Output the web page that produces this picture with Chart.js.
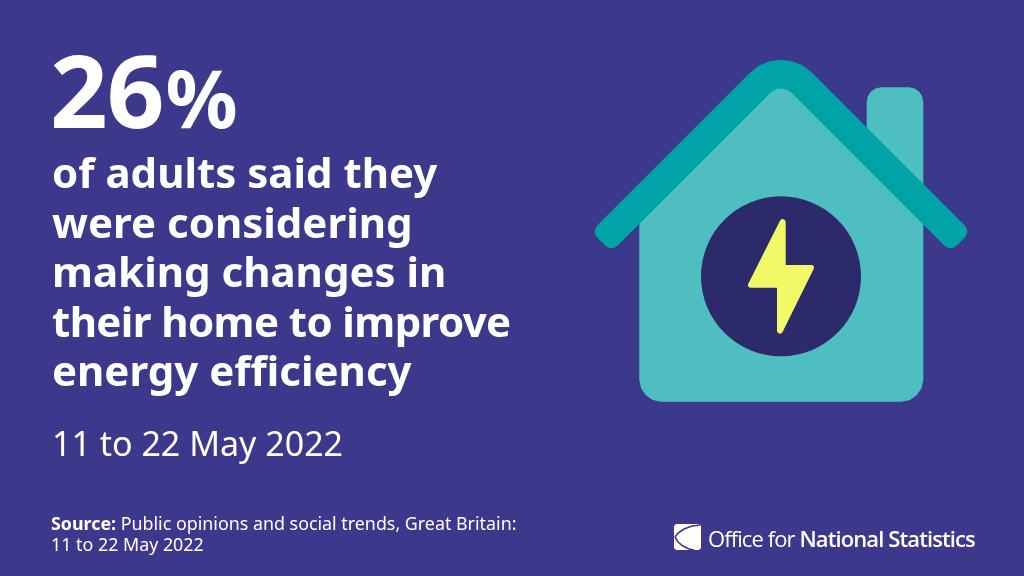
<!DOCTYPE html>
<html lang="en">
<head>
<meta charset="utf-8">
<title>26% of adults said they were considering making changes in their home to improve energy efficiency</title>
<script src="https://cdn.jsdelivr.net/npm/chart.js@4"></script>
<style>
  html, body { margin: 0; padding: 0; background: #3c388c; }
  #wrap { position: relative; width: 1024px; height: 576px; overflow: hidden; font-family: "Noto Sans", sans-serif; color: #fff; }
  canvas { position: absolute; left: 0; top: 0; }
  .t { position: absolute; left: 52px; white-space: nowrap; }
  #pct { left: 50px; top: 29px; font-size: 101px; line-height: 120px; font-weight: 700; letter-spacing: -1px; }
  #pct span { font-size: 80px; margin-left: 2px; }
  .line { font-size: 42px; line-height: 50px; font-weight: 700; }
  #date { top: 421px; font-size: 34px; line-height: 44px; }
  .src { left: 51px; font-size: 17.85px; line-height: 21px; }
  #logo { left: 708px; top: 522px; font-size: 22px; line-height: 32px; letter-spacing: -0.9px; font-weight: 400; font-family: "Open Sans", sans-serif; }
  #logo b { font-weight: 600; }
</style>
</head>
<body>
<div id="wrap">
  <canvas id="chart" width="1024" height="576"></canvas>
  <div class="t" id="pct"></div>
  <div class="t" id="date"></div>
  <div class="t" id="logo">Office for <b>National Statistics</b></div>
</div>
<script>
// text
const headline = "26";
const headlineUnit = "%";
const bodyLines = ["of adults said they", "were considering", "making changes in", "their home to improve", "energy efficiency"];
const dateLine = "11 to 22 May 2022";
const sourceLabel = "Source:";
const sourceLines = ["Public opinions and social trends, Great Britain:", "11 to 22 May 2022"];

// illustration outlines, in picture units
const roof = [
  [598.15,224.55],[750.2,72.5],[759.25,65.6],[769.7,61.3],[781,59.8],[792.3,61.3],[802.75,65.6],[811.8,72.5],
  [963.85,224.55],[966.5,228.05],[967.35,231.55],[966.5,235.05],[963.85,238.55],
  [957.55,244.85],[954.05,247.48],[950.55,248.35],[947.05,247.48],[943.55,244.85],
  [791.5,92.8],[788.4,90.4],[784.8,88.96],[781,88.45],[777.2,88.96],[773.6,90.4],[770.5,92.8],
  [618.45,244.85],[614.95,247.48],[611.45,248.35],[607.95,247.48],[604.45,244.85],
  [598.15,238.55],[595.5,235.05],[594.65,231.55],[595.5,228.05],[598.15,224.55]
];
const body = [
  [639.3,215],[781,80],[923.3,215],[923.3,380],[921.6,388],[917,395],[910,400],[901.3,401.7],
  [661.3,401.7],[652.6,400],[645.6,395],[641,388],[639.3,380],[639.3,215]
];
const chimney = [
  [866.7,200],[866.7,102],[868,96],[871,91.5],[875.5,88.5],[881,87.3],[909,87.3],[914.5,88.5],[919,91.5],[922,96],[923.3,102],[923.3,200],[866.7,200]
];
const badge = [[781,276.3]];
const bolt = [
  [780,220.7],[781.2,219.3],[782.7,219],[784.6,219.8],[785.7,221.7],[785.7,265],[812,265],[813.7,266],[814,268.3],
  [782.7,331.7],[781.5,333.3],[780,333.7],[778,333],[777,331],[777,287.7],[750,287.7],[748.3,286.5],[748,284.3],[780,220.7]
];
const logoSquare = [
  [674,526],[676,524],[699,524],[701,526],[701,548],[699,550],[676,550],[674,548],[674,526]
];
const logoArcTop = [[700,525],[692,526],[684,529],[678,533],[675,537]];
const logoArcBottom = [[675,537],[678,542],[683,546],[689,549],[694,550]];

function pts(list) {
  return list.map(p => ({ x: p[0], y: p[1] }));
}

function shape(list, color) {
  return { type: 'scatter', showLine: true, data: pts(list), fill: 'shape', backgroundColor: color, borderColor: color, borderWidth: 0, pointRadius: 0 };
}

function stroke(list, color) {
  return { type: 'scatter', showLine: true, data: pts(list), fill: false, borderColor: color, borderWidth: 1.6, pointRadius: 0 };
}

new Chart(document.getElementById('chart'), {
  type: 'scatter',
  data: {
    // first dataset is painted last
    datasets: [
      stroke(logoArcTop, '#3c388c'),
      stroke(logoArcBottom, '#3c388c'),
      shape(logoSquare, '#ffffff'),
      shape(bolt, '#f2f966'),
      { type: 'scatter', data: pts(badge), pointRadius: 80, pointHoverRadius: 80, pointBackgroundColor: '#2d2a6c', pointBorderWidth: 0 },
      shape(roof, '#00a3a6'),
      shape(chimney, '#4fbec0'),
      shape(body, '#4fbec0')
    ]
  },
  options: {
    responsive: false,
    animation: false,
    layout: { padding: 0, autoPadding: false },
    events: [],
    plugins: { legend: { display: false }, tooltip: { enabled: false } },
    scales: {
      x: { type: 'linear', display: false, min: 0, max: 1024 },
      y: { type: 'linear', display: false, min: 0, max: 576, reverse: true }
    }
  }
});

const wrap = document.getElementById('wrap');
document.getElementById('pct').innerHTML = headline + '<span>' + headlineUnit + '</span>';
document.getElementById('date').textContent = dateLine;

const lineTops = [147, 197, 246, 296, 345];
const lineSpacing = [0, 0, 0, -0.6, 0];
bodyLines.forEach((txt, i) => {
  const d = document.createElement('div');
  d.className = 't line';
  d.style.top = lineTops[i] + 'px';
  d.style.letterSpacing = lineSpacing[i] + 'px';
  d.textContent = txt;
  wrap.appendChild(d);
});

sourceLines.forEach((txt, i) => {
  const d = document.createElement('div');
  d.className = 't src';
  d.style.top = (513 + i * 21) + 'px';
  d.innerHTML = i === 0 ? '<b>' + sourceLabel + '</b> ' + txt : txt;
  wrap.appendChild(d);
});
</script>
</body>
</html>
